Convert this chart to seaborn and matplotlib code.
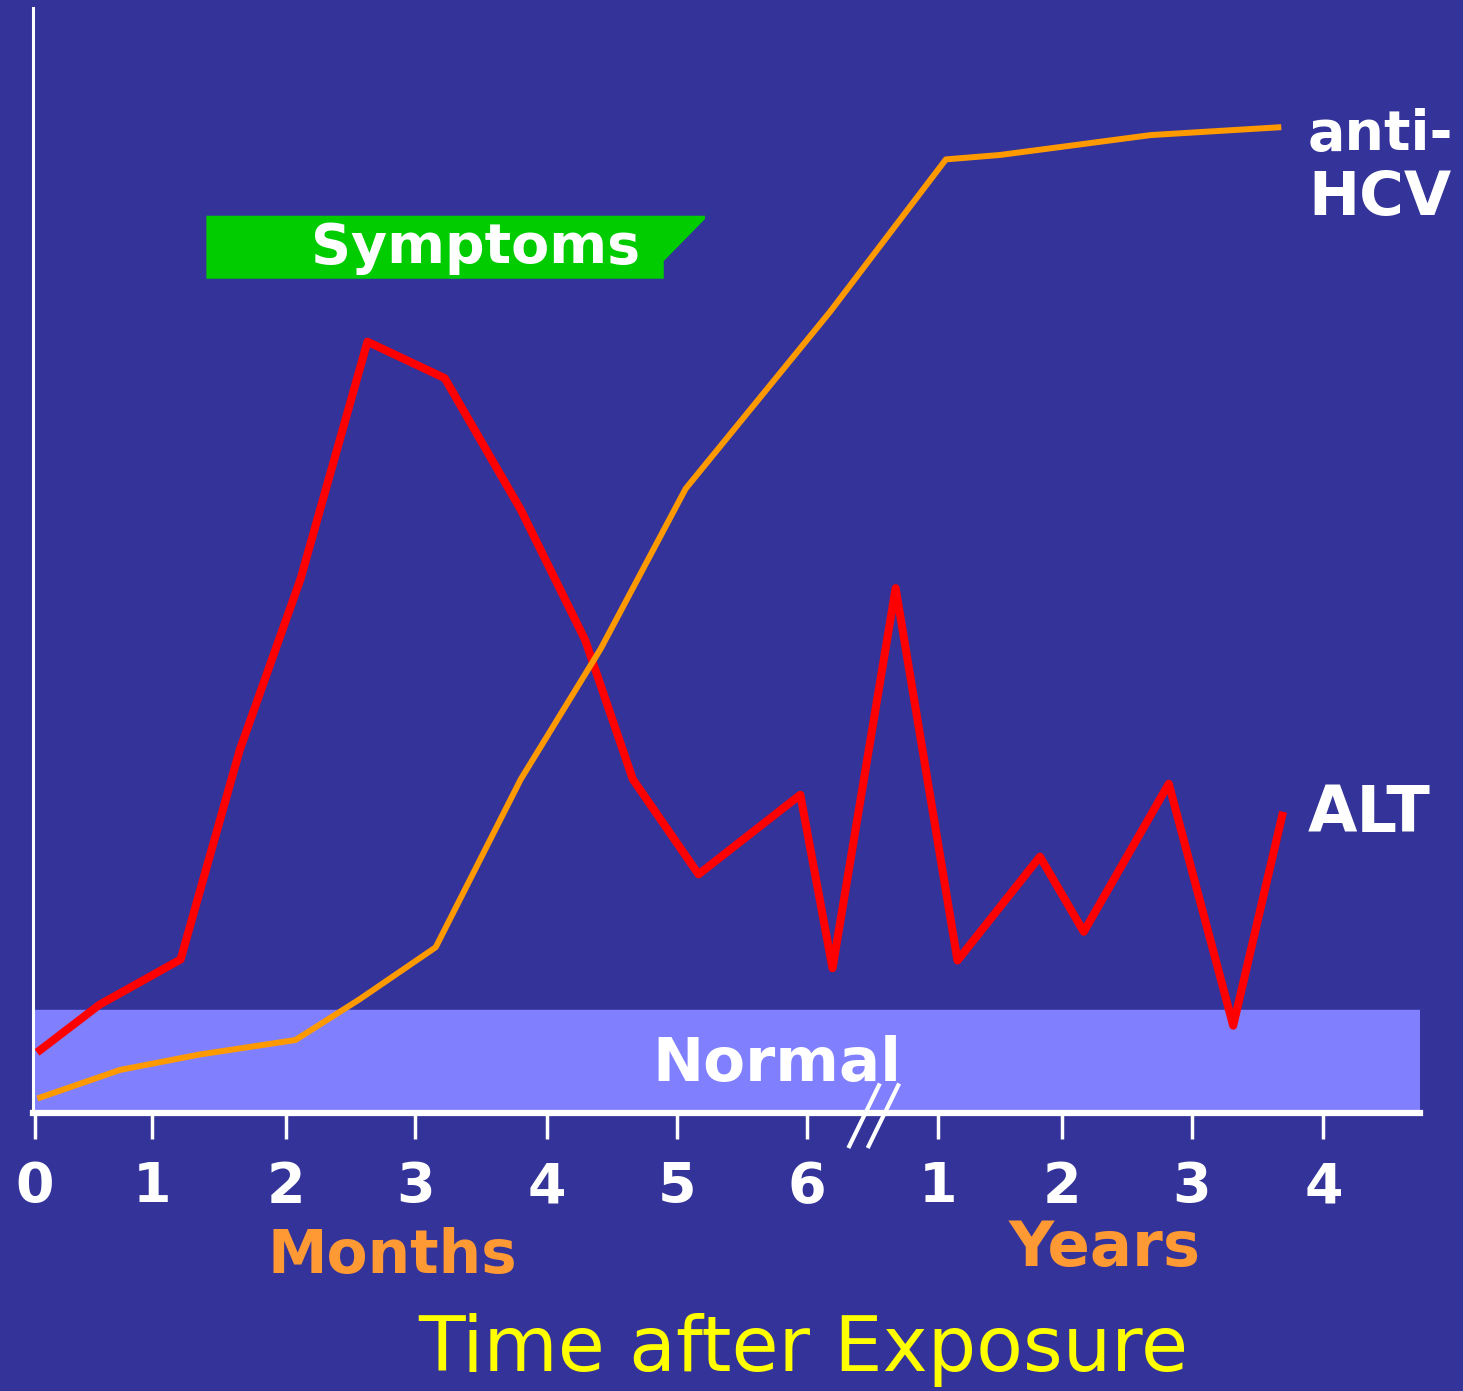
import numpy as np
import pandas as pd
import matplotlib
matplotlib.use("Agg")
import matplotlib.pyplot as plt
import seaborn as sns

# x axis: 0..6 months, then years 1..4 (hand-spaced ticks as in the original)
tick_pos = [0, 0.91, 1.95, 2.95, 3.97, 4.98, 5.99, 7.01, 7.97, 8.98, 10.0]
tick_labels = ['0', '1', '2', '3', '4', '5', '6', '1', '2', '3', '4']

alt_x = [0.04, 0.50, 1.13, 1.59, 2.06, 2.58, 3.18, 3.77, 4.27, 4.64, 5.15,
         5.94, 6.19, 6.68, 7.16, 7.80, 8.14, 8.80, 9.30, 9.68]
alt_y = [5.7, 9.8, 13.9, 32.9, 48.3, 69.8, 66.5, 54.6, 42.8, 30.2, 21.6,
         28.8, 13.1, 47.5, 13.8, 23.2, 16.4, 29.8, 7.9, 26.9]

hcv_x = [0.04, 0.66, 1.28, 2.02, 2.52, 3.11, 3.77, 4.39, 5.05, 6.17, 7.07,
         7.49, 8.66, 9.65]
hcv_y = [1.4, 3.9, 5.3, 6.6, 10.3, 15.0, 30.2, 42.0, 56.5, 72.5, 86.3,
         86.7, 88.5, 89.2]

normal_upper = 9.3
symptoms_start, symptoms_end = 1.33, 5.20
symptoms_low, symptoms_high = 75.5, 81.2

bg = '#333399'
W, H = 1463, 1391

fig = plt.figure(figsize=(W / 100, H / 100), dpi=100, facecolor=bg)
ax = fig.add_axes([33 / W, (H - 1113) / H, (1420 - 33) / W, (1113 - 8) / H])
ax.set_facecolor(bg)
ax.set_xlim(-0.016, 10.75)
ax.set_ylim(0, 100)

# normal range band
ax.axhspan(0, normal_upper, color='#8080FF', zorder=1)

alt = pd.DataFrame({'x': alt_x, 'y': alt_y})
hcv = pd.DataFrame({'x': hcv_x, 'y': hcv_y})
sns.lineplot(data=hcv, x='x', y='y', color='#FF9900', linewidth=4.3,
             sort=False, ax=ax, zorder=3)
sns.lineplot(data=alt, x='x', y='y', color='#FF0000', linewidth=5.8,
             sort=False, ax=ax, zorder=2)

# symptoms banner with stepped right edge
notch = symptoms_end - 0.32
ax.fill([symptoms_start, symptoms_end, symptoms_end, notch, notch, symptoms_start],
        [symptoms_high, symptoms_high, symptoms_high - 0.3, symptoms_low + 1.6,
         symptoms_low, symptoms_low],
        color='#00CC00', zorder=2, linewidth=0)
ax.text(3.42, (symptoms_low + symptoms_high) / 2 - 0.1, 'Symptoms', color='white',
        fontsize=40, fontweight='bold', ha='center', va='center', zorder=4)

ax.text(5.76, 4.4, 'Normal', color='white', fontsize=44, fontweight='bold',
        ha='center', va='center', zorder=4)

# labels at the line ends
ax.text(9.88, (1113 - 150) / 11.05, 'anti-', color='white', fontsize=40,
        fontweight='bold', ha='left', va='baseline', clip_on=False)
ax.text(9.88, (1113 - 215) / 11.05, 'HCV', color='white', fontsize=44,
        fontweight='bold', ha='left', va='baseline', clip_on=False)
ax.text(9.88, (1113 - 832) / 11.05, 'ALT', color='white', fontsize=46,
        fontweight='bold', ha='left', va='baseline', clip_on=False)

# axes styling
for s in ['top', 'right']:
    ax.spines[s].set_visible(False)
ax.spines['bottom'].set_color('white')
ax.spines['bottom'].set_linewidth(4.5)
ax.spines['left'].set_color('white')
ax.spines['left'].set_linewidth(2.2)
ax.set_xticks(tick_pos)
ax.set_xticklabels(tick_labels)
ax.tick_params(axis='x', colors='white', length=19, width=2.5, pad=15,
               labelsize=40)
for lab in ax.get_xticklabels():
    lab.set_fontweight('bold')
ax.set_yticks([])
ax.set_xlabel('')
ax.set_ylabel('')

# axis break marks
for dx in [0, 0.15]:
    ax.plot([6.32 + dx, 6.55 + dx], [-3.0, 2.5], color='white', linewidth=3,
            clip_on=False, zorder=5)

fig.text(392 / W, 1 - 1256 / H, 'Months', color='#FF9933', fontsize=43,
         fontweight='bold', ha='center', va='center')
fig.text(1105 / W, 1 - 1249 / H, 'Years', color='#FF9933', fontsize=45,
         fontweight='bold', ha='center', va='center')
fig.text(803 / W, 1 - 1350 / H, 'Time after Exposure', color='#FFFF00',
         fontsize=55, ha='center', va='center')

fig.savefig('out.png', dpi=100, facecolor=bg)
